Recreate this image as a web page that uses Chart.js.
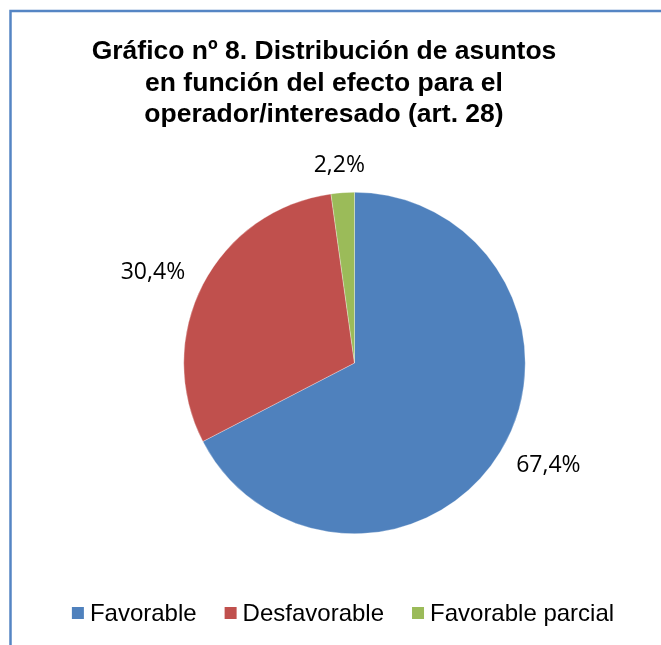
<!DOCTYPE html>
<html>
<head>
<meta charset="utf-8">
<script src="https://cdn.jsdelivr.net/npm/chart.js@4"></script>
<style>
  html, body { margin:0; padding:0; background:#fff; }
  #wrap { width:661px; height:645px; position:relative; }
</style>
</head>
<body>
<div id="wrap"><canvas id="pieChart" width="661" height="645"></canvas></div>
<script>
const titleLines = ["Gráfico nº 8. Distribución de asuntos", "en función del efecto para el", "operador/interesado (art. 28)"];
const labels = ["Favorable", "Desfavorable", "Favorable parcial"];
const values = [67.4, 30.4, 2.2];
const colors = ["#4f81bd", "#c0504d", "#9bbb59"];

function fmt(v){ return v.toFixed(1).replace(".", ",") + "%"; }

// marco, titulo, etiquetas y leyenda
const decor = {
  id: "decor",
  beforeDraw(chart){
    const ctx = chart.ctx;
    ctx.save();
    ctx.fillStyle = "#fff";
    ctx.fillRect(0, 0, chart.width, chart.height);
    ctx.strokeStyle = "#5585c4";
    ctx.lineWidth = 2.5;
    ctx.beginPath();
    ctx.moveTo(10.5, chart.height);
    ctx.lineTo(10.5, 11);
    ctx.lineTo(chart.width, 11);
    ctx.stroke();
    ctx.restore();
  },
  afterDraw(chart){
    const ctx = chart.ctx;
    ctx.save();
    // titulo
    ctx.fillStyle = "#000";
    ctx.font = "bold 26.5px 'Liberation Sans', Arial, sans-serif";
    ctx.textAlign = "center";
    ctx.textBaseline = "middle";
    titleLines.forEach((t, i) => ctx.fillText(t, 324, 52 + i * 31.5));

    // etiquetas de datos fuera del sector
    const meta = chart.getDatasetMeta(0);
    ctx.font = "23px 'Open Sans', sans-serif";
    meta.data.forEach((arc, i) => {
      const p = arc.getProps(["x", "y", "startAngle", "endAngle", "outerRadius"], true);
      const a = (p.startAngle + p.endAngle) / 2;
      const txt = fmt(values[i]);
      const hw = ctx.measureText(txt).width / 2, hh = 3;
      const c = Math.cos(a), s = Math.sin(a);
      const d = p.outerRadius + 24;
      ctx.fillText(txt, p.x + c * (d + hw), p.y + s * (d + hh));
    });

    // leyenda
    ctx.font = "24px 'Liberation Sans', Arial, sans-serif";
    ctx.textAlign = "left";
    const box = 12, gapTxt = 6, gapItem = 28;
    const widths = labels.map(l => box + gapTxt + ctx.measureText(l).width);
    const total = widths.reduce((a, b) => a + b, 0) + gapItem * (labels.length - 1);
    let x = 343 - total / 2;
    const y = 613;
    labels.forEach((l, i) => {
      ctx.fillStyle = colors[i];
      ctx.fillRect(x, y - box / 2, box, box);
      ctx.fillStyle = "#000";
      ctx.fillText(l, x + box + gapTxt, y + 1);
      x += widths[i] + gapItem;
    });
    ctx.restore();
  }
};

new Chart(document.getElementById("pieChart"), {
  type: "pie",
  data: {
    labels: labels,
    datasets: [{
      data: values,
      backgroundColor: colors,
      borderColor: "rgba(255,255,255,0.6)",
      borderWidth: 0.5
    }]
  },
  options: {
    responsive: false,
    animation: false,
    layout: { padding: { left: 183, right: 135, top: 192, bottom: 111 } },
    plugins: {
      legend: { display: false },
      title: { display: false },
      tooltip: { enabled: false }
    }
  },
  plugins: [decor]
});
</script>
</body>
</html>
